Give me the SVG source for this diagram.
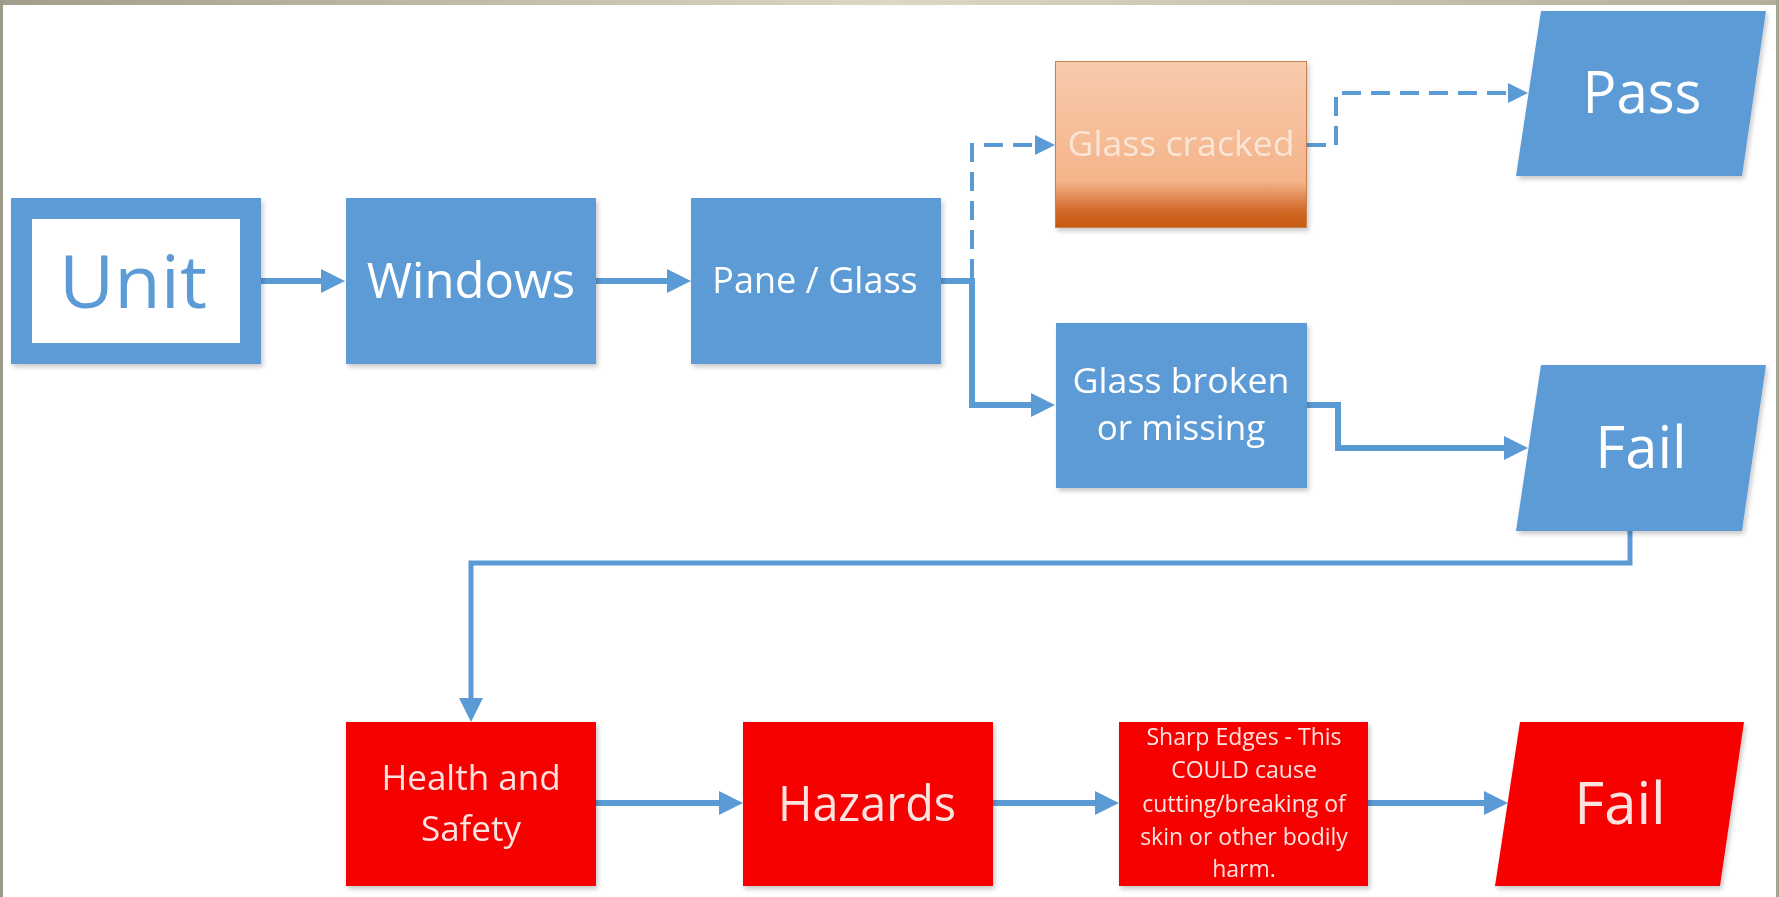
<svg xmlns="http://www.w3.org/2000/svg" width="1779" height="897" viewBox="0 0 1779 897">
  <defs>
    <linearGradient id="topBand" x1="0" y1="0" x2="1" y2="0">
      <stop offset="0" stop-color="#a19e8b"/>
      <stop offset="0.5" stop-color="#dcd6c2"/>
      <stop offset="1" stop-color="#b3af9a"/>
    </linearGradient>
    <linearGradient id="peach" x1="0" y1="0" x2="0" y2="1">
      <stop offset="0" stop-color="#f8cbad"/>
      <stop offset="0.72" stop-color="#f4b48a"/>
      <stop offset="0.9" stop-color="#d2692a"/>
      <stop offset="1" stop-color="#c55a11"/>
    </linearGradient>
    <filter id="shadow" x="-10%" y="-10%" width="125%" height="130%">
      <feGaussianBlur in="SourceAlpha" stdDeviation="2.5"/>
      <feOffset dx="2" dy="3" result="b"/>
      <feComponentTransfer><feFuncA type="linear" slope="0.22"/></feComponentTransfer>
      <feMerge><feMergeNode/><feMergeNode in="SourceGraphic"/></feMerge>
    </filter>
    <marker id="arrow" markerUnits="userSpaceOnUse" markerWidth="24" markerHeight="24" refX="0" refY="12" orient="auto">
      <path d="M0,0 L24,12 L0,24 Z" fill="#5b9bd5"/>
    </marker>
    <marker id="arrowSmall" markerUnits="userSpaceOnUse" markerWidth="20" markerHeight="20" refX="0" refY="10" orient="auto">
      <path d="M0,0 L20,10 L0,20 Z" fill="#5b9bd5"/>
    </marker>
  </defs>
  <style>
    .lbl { font-family: "Open Sans", "Noto Sans", "Liberation Sans", sans-serif; text-anchor: middle; }
    .white { fill: #ffffff; }
    .pink { fill: #fde3e0; }
    .cream { fill: #fbe5d6; }
    .blue { fill: #5b9bd5; }
    .red { fill: #f60000; }
    .wire { fill: none; stroke: #5b9bd5; stroke-width: 6; }
    .thin { stroke-width: 5; }
    .dash { stroke-width: 4; stroke-dasharray: 19 10; }
  </style>

  <!-- page frame -->
  <rect x="0" y="0" width="1779" height="897" fill="#ffffff"/>
  <rect x="0" y="0" width="1779" height="5" fill="url(#topBand)"/>
  <rect x="0" y="0" width="3" height="897" fill="#9d9a88"/>
  <rect x="1776" y="0" width="3" height="897" fill="#a6a391"/>

  <!-- connectors -->
  <g id="connectors">
    <path class="wire" d="M261,281 H321" marker-end="url(#arrow)"/>
    <path class="wire" d="M596,281 H667" marker-end="url(#arrow)"/>
    <path class="wire" d="M941,281 H972 V405 H1031" marker-end="url(#arrow)"/>
    <path class="wire dash" d="M972,278 V145 H1035" marker-end="url(#arrowSmall)"/>
    <path class="wire dash" d="M1307,145 H1336 V93 H1508" marker-end="url(#arrowSmall)"/>
    <path class="wire" d="M1307,405 H1338 V448 H1504" marker-end="url(#arrow)"/>
    <path class="wire thin" d="M1630,531 V563 H471 V698" marker-end="url(#arrow)"/>
    <path class="wire" d="M596,803 H719" marker-end="url(#arrow)"/>
    <path class="wire" d="M993,803 H1095" marker-end="url(#arrow)"/>
    <path class="wire" d="M1368,803 H1484" marker-end="url(#arrow)"/>
  </g>

  <!-- top row -->
  <g id="unit" filter="url(#shadow)">
    <rect x="21.5" y="208.5" width="229" height="145" fill="#ffffff" stroke="#5b9bd5" stroke-width="21"/>
    <text class="lbl blue" x="133" y="308" font-size="73" textLength="148" lengthAdjust="spacingAndGlyphs">Unit</text>
  </g>
  <g id="windows" filter="url(#shadow)">
    <rect x="346" y="198" width="250" height="166" fill="#5b9bd5"/>
    <text class="lbl white" x="471" y="298" font-size="49">Windows</text>
  </g>
  <g id="pane-glass" filter="url(#shadow)">
    <rect x="691" y="198" width="250" height="166" fill="#5b9bd5"/>
    <text class="lbl white" x="815" y="293" font-size="36">Pane / Glass</text>
  </g>
  <g id="glass-cracked" filter="url(#shadow)">
    <rect x="1055.5" y="61.5" width="251" height="166" fill="url(#peach)" stroke="#c9804e" stroke-width="1"/>
    <text class="lbl cream" x="1181" y="156" font-size="35" textLength="227" lengthAdjust="spacingAndGlyphs">Glass cracked</text>
  </g>
  <g id="glass-broken" filter="url(#shadow)">
    <rect x="1056" y="323" width="251" height="165" fill="#5b9bd5"/>
    <text class="lbl white" x="1181" y="393" font-size="35" textLength="217" lengthAdjust="spacingAndGlyphs">Glass broken</text>
    <text class="lbl white" x="1181" y="440" font-size="35">or missing</text>
  </g>
  <g id="pass" filter="url(#shadow)">
    <polygon points="1541,11 1766,11 1742,176 1516,176" fill="#5b9bd5"/>
    <text class="lbl white" x="1642" y="113" font-size="58" textLength="119" lengthAdjust="spacingAndGlyphs">Pass</text>
  </g>
  <g id="fail-check" filter="url(#shadow)">
    <polygon points="1541,365 1766,365 1742,531 1516,531" fill="#5b9bd5"/>
    <text class="lbl white" x="1641" y="468" font-size="58">Fail</text>
  </g>

  <!-- bottom row -->
  <g id="health-safety" filter="url(#shadow)">
    <rect x="346" y="722" width="250" height="164" fill="#f60000"/>
    <text class="lbl pink" x="471" y="790" font-size="35">Health and</text>
    <text class="lbl pink" x="471" y="841" font-size="35">Safety</text>
  </g>
  <g id="hazards" filter="url(#shadow)">
    <rect x="743" y="722" width="250" height="164" fill="#f60000"/>
    <text class="lbl pink" x="867" y="821" font-size="50" textLength="178" lengthAdjust="spacingAndGlyphs">Hazards</text>
  </g>
  <g id="sharp-edges" filter="url(#shadow)">
    <rect x="1119" y="722" width="249" height="164" fill="#f60000"/>
    <text class="lbl pink" x="1244" y="745" font-size="23">Sharp Edges - This</text>
    <text class="lbl pink" x="1244" y="778" font-size="23">COULD cause</text>
    <text class="lbl pink" x="1244" y="811.5" font-size="23">cutting/breaking of</text>
    <text class="lbl pink" x="1244" y="845" font-size="23">skin or other bodily</text>
    <text class="lbl pink" x="1244" y="877" font-size="23">harm.</text>
  </g>
  <g id="fail-result" filter="url(#shadow)">
    <polygon points="1520,722 1744,722 1720,886 1495,886" fill="#f60000"/>
    <text class="lbl pink" x="1620" y="824" font-size="58">Fail</text>
  </g>
</svg>
